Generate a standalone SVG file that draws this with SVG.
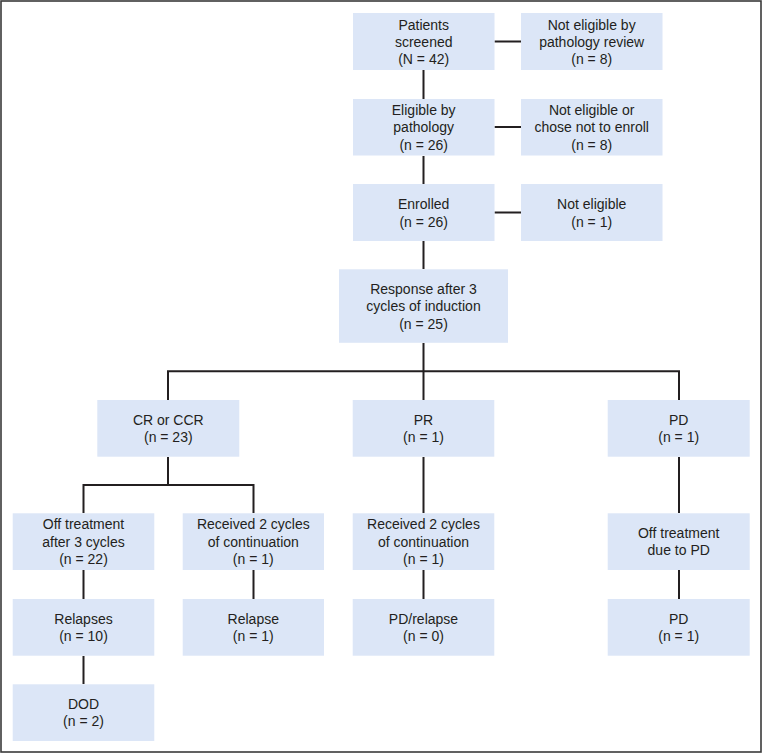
<svg xmlns="http://www.w3.org/2000/svg" width="764" height="754" viewBox="0 0 764 754">
<style>
.box{fill:#dce6f7;}
.t{font-family:"Liberation Sans",Arial,sans-serif;font-size:14px;fill:#231f20;text-anchor:middle;}
.c{stroke:#231f20;stroke-width:2;fill:none;}
</style>
<rect x="1" y="1" width="760" height="751" fill="#ffffff" stroke="#3a3a3a" stroke-width="1.6"/>
<g id="connectors" class="c">
<path d="M423.5 70V99M423.5 156V184M423.5 241V269M423.5 343V400"/>
<path d="M494.5 41.5H521M494.5 127H521M494.5 212.5H521"/>
<path d="M168 400V371.3H679V400"/>
<path d="M168 457V485"/>
<path d="M83.5 513V485H253.5V513"/>
<path d="M83.5 570V599M83.5 656V684M253.5 570V599"/>
<path d="M423.5 457V513M423.5 570V599"/>
<path d="M679 457V513M679 570V599"/>
</g>
<g id="screened"><rect class="box" x="353" y="13" width="141.5" height="57"/><text class="t" x="423.7"><tspan x="423.7" y="29.5">Patients</tspan><tspan x="423.7" y="46.8">screened</tspan><tspan x="423.7" y="64.1">(N = 42)</tspan></text></g>
<g id="notelig1"><rect class="box" x="521" y="13" width="141.5" height="57"/><text class="t"><tspan x="591.7" y="29.5">Not eligible by</tspan><tspan x="591.7" y="46.8">pathology review</tspan><tspan x="591.7" y="64.1">(n = 8)</tspan></text></g>
<g id="eligible"><rect class="box" x="353" y="99" width="141.5" height="56.5"/><text class="t"><tspan x="423.7" y="115">Eligible by</tspan><tspan x="423.7" y="132.3">pathology</tspan><tspan x="423.7" y="149.6">(n = 26)</tspan></text></g>
<g id="notelig2"><rect class="box" x="521" y="99" width="141.5" height="56.5"/><text class="t"><tspan x="591.7" y="115">Not eligible or</tspan><tspan x="591.7" y="132.3">chose not to enroll</tspan><tspan x="591.7" y="149.6">(n = 8)</tspan></text></g>
<g id="enrolled"><rect class="box" x="353" y="184" width="141.5" height="57"/><text class="t"><tspan x="423.7" y="209.2">Enrolled</tspan><tspan x="423.7" y="226.5">(n = 26)</tspan></text></g>
<g id="notelig3"><rect class="box" x="521" y="184" width="141.5" height="57"/><text class="t"><tspan x="591.7" y="209.2">Not eligible</tspan><tspan x="591.7" y="226.5">(n = 1)</tspan></text></g>
<g id="response"><rect class="box" x="339" y="269.3" width="169" height="73.5"/><text class="t"><tspan x="423.5" y="294">Response after 3</tspan><tspan x="423.5" y="311.3">cycles of induction</tspan><tspan x="423.5" y="328.6">(n = 25)</tspan></text></g>
<g id="cr"><rect class="box" x="97.3" y="400" width="142" height="56.7"/><text class="t"><tspan x="168.3" y="424.8">CR or CCR</tspan><tspan x="168.3" y="442.1">(n = 23)</tspan></text></g>
<g id="pr"><rect class="box" x="352.7" y="400" width="141.6" height="56.7"/><text class="t"><tspan x="423.5" y="424.8">PR</tspan><tspan x="423.5" y="442.1">(n = 1)</tspan></text></g>
<g id="pd"><rect class="box" x="607.7" y="400" width="142" height="56.7"/><text class="t"><tspan x="678.7" y="424.8">PD</tspan><tspan x="678.7" y="442.1">(n = 1)</tspan></text></g>
<g id="offtreat"><rect class="box" x="12.7" y="513.3" width="141.6" height="56.7"/><text class="t"><tspan x="83.5" y="529.3">Off treatment</tspan><tspan x="83.5" y="546.6">after 3 cycles</tspan><tspan x="83.5" y="563.9">(n = 22)</tspan></text></g>
<g id="recv1"><rect class="box" x="182.7" y="513.3" width="141.3" height="56.7"/><text class="t"><tspan x="253.3" y="529.3">Received 2 cycles</tspan><tspan x="253.3" y="546.6">of continuation</tspan><tspan x="253.3" y="563.9">(n = 1)</tspan></text></g>
<g id="recv2"><rect class="box" x="352.7" y="513.3" width="141.6" height="56.7"/><text class="t"><tspan x="423.5" y="529.3">Received 2 cycles</tspan><tspan x="423.5" y="546.6">of continuation</tspan><tspan x="423.5" y="563.9">(n = 1)</tspan></text></g>
<g id="offpd"><rect class="box" x="607.7" y="513.3" width="142" height="56.7"/><text class="t"><tspan x="678.7" y="537.9">Off treatment</tspan><tspan x="678.7" y="555.2">due to PD</tspan></text></g>
<g id="relapses"><rect class="box" x="12.7" y="599" width="141.6" height="56.7"/><text class="t"><tspan x="83.5" y="623.6">Relapses</tspan><tspan x="83.5" y="640.9">(n = 10)</tspan></text></g>
<g id="relapse"><rect class="box" x="182.7" y="599" width="141.3" height="56.7"/><text class="t"><tspan x="253.3" y="623.6">Relapse</tspan><tspan x="253.3" y="640.9">(n = 1)</tspan></text></g>
<g id="pdrelapse"><rect class="box" x="352.7" y="599" width="141.6" height="56.7"/><text class="t"><tspan x="423.5" y="623.6">PD/relapse</tspan><tspan x="423.5" y="640.9">(n = 0)</tspan></text></g>
<g id="pd2"><rect class="box" x="607.7" y="599" width="142" height="56.7"/><text class="t"><tspan x="678.7" y="623.6">PD</tspan><tspan x="678.7" y="640.9">(n = 1)</tspan></text></g>
<g id="dod"><rect class="box" x="12.7" y="684.3" width="141.6" height="56.7"/><text class="t"><tspan x="83.5" y="708.9">DOD</tspan><tspan x="83.5" y="726.2">(n = 2)</tspan></text></g>
</svg>
